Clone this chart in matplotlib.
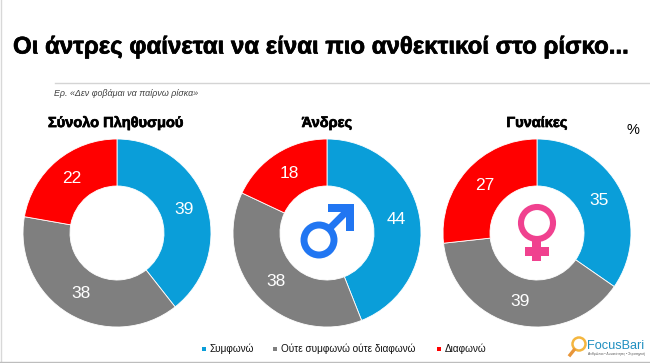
import matplotlib
matplotlib.use('Agg')
import matplotlib.pyplot as plt
import matplotlib.patheffects as pe
from matplotlib.patches import Circle, Rectangle, Polygon

plt.rcParams['font.family'] = ['Liberation Sans', 'DejaVu Sans']

# data
groups = ['Σύνολο Πληθυσμού', 'Άνδρες', 'Γυναίκες']
series = ['Συμφωνώ', 'Ούτε συμφωνώ ούτε διαφωνώ', 'Διαφωνώ']
total_values = [39, 38, 22]
men_values = [44, 38, 18]
women_values = [35, 39, 27]
colors = ['#0a9ed9', '#7f7f7f', '#ff0000']

W, H = 650, 363
fig = plt.figure(figsize=(W / 100, H / 100), dpi=100, facecolor='white')

# overlay in pixel coordinates for text and decoration
bg = fig.add_axes([0, 0, 1, 1])
bg.set_xlim(0, W)
bg.set_ylim(H, 0)
bg.axis('off')


def draw_donut(values, cx, cy, r):
    # axes box is 2.2 data units wide so the pie radius of 1 maps to r pixels
    size = r * 2.2
    ax = fig.add_axes([(cx - size / 2) / W, 1 - (cy + size / 2) / H, size / W, size / H])
    ax.pie(values, colors=colors, startangle=90, counterclock=False, radius=1,
           wedgeprops={'width': 0.5, 'edgecolor': 'white', 'linewidth': 0.6},
           labels=[str(v) for v in values], labeldistance=0.75,
           textprops={'color': 'white', 'fontsize': 12.5, 'ha': 'center', 'va': 'center'},
           frame=False)
    ax.set_xlim(-1.1, 1.1)
    ax.set_ylim(-1.1, 1.1)


draw_donut(total_values, 117, 233, 94)
draw_donut(men_values, 327, 233, 94)
draw_donut(women_values, 537, 233, 94)

# title and rules, stroke makes the bold read as heavy as the reference
heavy = [pe.withStroke(linewidth=0.5, foreground='black')]
bg.text(13, 47, 'Οι άντρες φαίνεται να είναι πιο ανθεκτικοί στο ρίσκο...',
        fontsize=17.3, fontweight='bold', color='black', va='center', ha='left',
        path_effects=heavy)
bg.plot([55, 650], [83, 83], color='#d4d4d4', lw=1)
bg.plot([1, 1], [0, 363], color='#d8d8d8', lw=1)
bg.plot([0, 650], [362, 362], color='#bdbdbd', lw=1)
bg.text(54, 94, 'Ερ. «Δεν φοβάμαι να παίρνω ρίσκα»', fontsize=6.4, style='italic',
        color='#404040', va='center', ha='left')

# group headings
for name, x in zip(groups, [116, 327, 537]):
    bg.text(x, 123, name, fontsize=10.5, fontweight='bold', color='black',
            ha='center', va='center', path_effects=heavy)
bg.text(633, 130, '%', fontsize=10.5, color='black', ha='center', va='center')

# male symbol
male = '#2176f2'
bg.add_patch(Circle((319, 240), 15, fill=False, ec=male, lw=5))
bg.plot([329, 349], [229, 209], color=male, lw=5, solid_capstyle='butt')
bg.add_patch(Polygon([[328, 204], [354, 204], [354, 231], [346, 231], [346, 212], [328, 212]],
                     closed=True, fc=male, ec='none'))

# female symbol
female = '#f0418f'
bg.add_patch(Circle((537, 223), 16, fill=False, ec=female, lw=4.4))
bg.add_patch(Rectangle((532, 240), 9, 21, fc=female, ec='none'))
bg.add_patch(Rectangle((525, 247), 24, 9, fc=female, ec='none'))

# legend
legend_x = [204, 275, 439]
for name, c, x in zip(series, colors, legend_x):
    bg.add_patch(Rectangle((x - 2, 349 - 2), 4, 4, fc=c, ec='none'))
    bg.text(x + 6, 349, name, fontsize=7.2, color='#111111', va='center', ha='left')

# logo
bg.add_patch(Circle((579, 344), 6.5, fill=False, ec='#f4b63f', lw=1.8))
bg.plot([574, 570], [350, 355], color='#e8963a', lw=2.4)
bg.text(587, 346, 'FocusBari', fontsize=9.2, color='#1f8fc0', va='center', ha='left')
bg.text(588, 354, 'Ανθρώποι • Δυνατότητες • Στρατηγική', fontsize=2.4, color='#555555',
        va='center', ha='left')

fig.savefig('out.png', dpi=100)
